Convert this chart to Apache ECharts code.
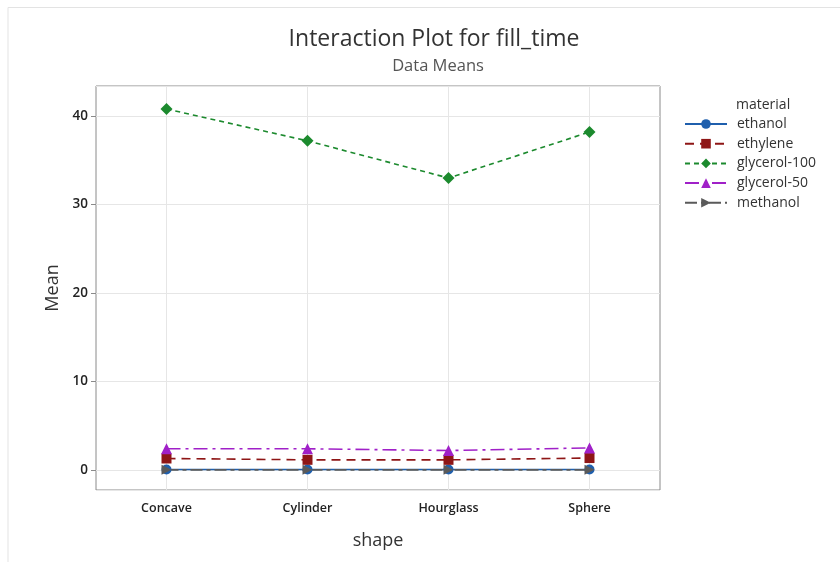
<!DOCTYPE html>
<html>
<head>
<meta charset="utf-8">
<script src="https://cdn.jsdelivr.net/npm/echarts@6/dist/echarts.min.js"></script>
<style>html,body{margin:0;padding:0;background:#fff}#c{width:840px;height:562px}</style>
</head>
<body>
<div id="c"></div>
<script>
const categories = ['Concave', 'Cylinder', 'Hourglass', 'Sphere'];
const ethanol = [0.05, 0.05, 0.05, 0.05];
const ethylene = [1.3, 1.15, 1.15, 1.35];
const glycerol100 = [40.8, 37.2, 33.0, 38.2];
const glycerol50 = [2.4, 2.4, 2.2, 2.5];
const methanol = [0.02, 0.02, 0.02, 0.02];
const yTicks = [0, 10, 20, 30, 40];

const FONT = '"Open Sans", "Noto Sans", sans-serif';
const chart = echarts.init(document.getElementById('c'));

function mk(name, data, color, type, symbol, size, extra) {
  return Object.assign({
    name: name, type: 'line', data: data,
    symbol: symbol, symbolSize: size,
    lineStyle: { color: color, width: 1.6, type: type },
    itemStyle: { color: color },
    z: 3
  }, extra || {});
}

const series = [
  mk('ethanol', ethanol, '#1f5fad', 'solid', 'circle', 10, {
    markLine: {
      silent: true, symbol: ['none', 'none'], label: { show: false }, z: 1,
      lineStyle: { color: '#e6e6e6', type: 'solid', width: 1 },
      data: categories.map(function (c) { return { xAxis: c }; })
    }
  }),
  mk('ethylene', ethylene, '#8e1616', [9, 6], 'rect', 10),
  mk('glycerol-100', glycerol100, '#1c8a2e', [5, 4], 'diamond', 12),
  mk('glycerol-50', glycerol50, '#a020c8', [14, 5, 3, 5], 'triangle', 11),
  mk('methanol', methanol, '#5a5a5a', [12, 4, 4, 4], 'triangle', 10, { symbolRotate: -90 })
];

chart.setOption({
  backgroundColor: '#fff',
  animation: false,
  textStyle: { fontFamily: FONT },
  title: [
    { text: 'Interaction Plot for fill_time', left: 429, top: 23, textAlign: 'center',
      textStyle: { fontSize: 23, fontWeight: 500, color: '#333', fontFamily: FONT } },
    { text: 'Data Means', left: 433, top: 53, textAlign: 'center',
      textStyle: { fontSize: 16.5, fontWeight: 'normal', color: '#555', fontFamily: FONT } },
    { text: 'material', left: 731, top: 93,
      textStyle: { fontSize: 14, fontWeight: 'normal', color: '#333', fontFamily: FONT } }
  ],
  graphic: [
    { type: 'polyline', shape: { points: [[8, 562], [8, 7.5], [840, 7.5]] },
      style: { stroke: '#e3e3e3', lineWidth: 1, fill: null }, silent: true }
  ],
  legend: {
    orient: 'vertical', left: 684, top: 117,
    itemWidth: 42, itemHeight: 12, itemGap: 5.7, padding: 0,
    textStyle: { fontSize: 14, color: '#333', fontFamily: FONT, padding: [0, 0, 0, 5] },
    data: ['ethanol', 'ethylene', 'glycerol-100', 'glycerol-50', 'methanol']
  },
  grid: { left: 96, right: 180, top: 86, bottom: 72, show: true, borderColor: '#8a8a8a', borderWidth: 1 },
  xAxis: {
    type: 'category', data: categories, boundaryGap: true,
    name: 'shape', nameLocation: 'middle', nameGap: 42,
    nameTextStyle: { fontSize: 18, color: '#333', fontFamily: FONT },
    axisLine: { show: false },
    axisTick: { show: true, alignWithLabel: true, length: 5, lineStyle: { color: '#8a8a8a' } },
    axisLabel: { fontSize: 12.5, fontWeight: 600, color: '#222', margin: 12, fontFamily: FONT },
    splitLine: { show: false }
  },
  yAxis: {
    type: 'value', min: -2.26, max: 43.4,
    name: 'Mean', nameLocation: 'middle', nameGap: 34,
    nameTextStyle: { fontSize: 18, color: '#333', fontFamily: FONT },
    axisLine: { show: false },
    axisTick: { show: true, length: 5, lineStyle: { color: '#8a8a8a' } },
    axisLabel: { fontSize: 13.5, fontWeight: 600, color: '#222', margin: 8, fontFamily: FONT, showMinLabel: false, showMaxLabel: false,
      formatter: function (v) { return yTicks.indexOf(v) >= 0 ? String(v) : ''; } },
    splitLine: { show: true, lineStyle: { color: '#e6e6e6' } }
  },
  series: series
});
</script>
</body>
</html>
